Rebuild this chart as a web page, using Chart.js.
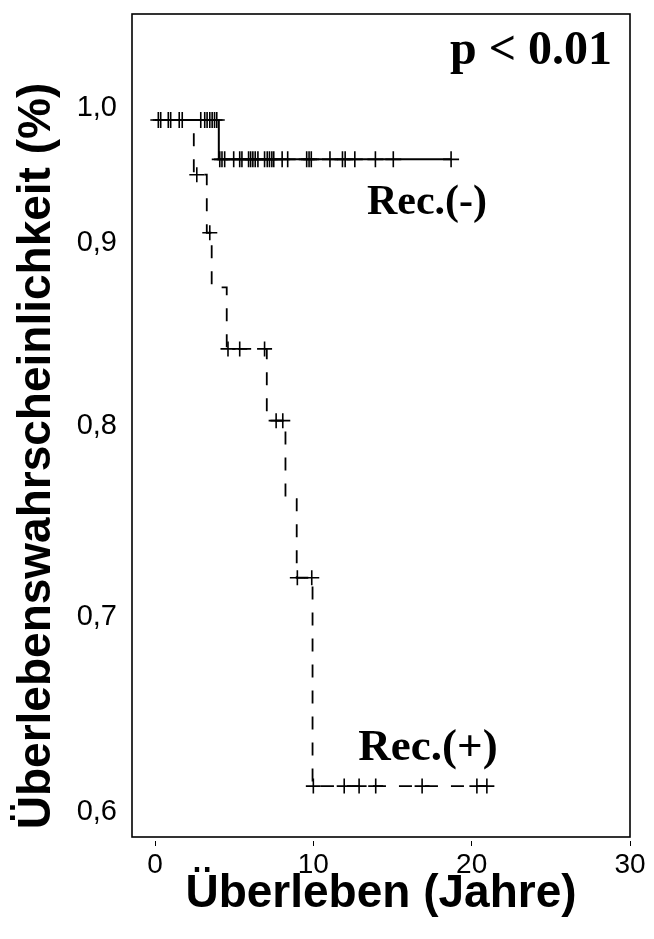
<!DOCTYPE html>
<html>
<head>
<meta charset="utf-8">
<script src="https://cdn.jsdelivr.net/npm/chart.js@4.4.0/dist/chart.umd.min.js"></script>
<style>
  html, body { margin: 0; padding: 0; background: #fff; }
  #wrap { width: 654px; height: 939px; }
</style>
</head>
<body>
<div id="wrap"><canvas id="chart" width="654" height="939"></canvas></div>
<script>
// Rec.(-) : Kaplan-Meier steps, censoring times (Jahre)
const negEventTimes = [0, 4.03]
const negSurvival = [1.0, 0.977]
const negFollowUpEnd = 18.7
const negCensored = [0.21, 0.36, 0.84, 0.99, 1.53, 1.72, 2.89, 3.14, 3.29, 3.46, 3.61, 3.76, 3.9,
  4.09, 4.23, 4.4, 4.97, 5.35, 5.49, 5.91, 6.04, 6.18, 6.33, 6.5, 6.92, 7.09, 7.23, 7.38, 7.5,
  8.03, 8.38, 9.58, 9.73, 9.87, 11.05, 11.84, 12.01, 12.62, 13.92, 15.05, 18.7]

// Rec.(+)
const posEventTimes = [0, 2.45, 3.27, 3.58, 4.53, 7.06, 8.24, 8.95, 9.95]
const posSurvival = [1.0, 0.968, 0.934, 0.902, 0.866, 0.824, 0.778, 0.732, 0.61]
const posFollowUpEnd = 20.96
const posCensored = [2.64, 3.46, 4.61, 5.35, 6.92, 7.65, 8.07, 8.99, 9.9, 10.0,
  11.95, 12.89, 13.94, 16.87, 20.33, 20.96]

// axes
const xTicks = [0, 10, 20, 30]
const yTickValues = [1.007, 0.928, 0.821, 0.709, 0.595]
const yTickLabels = ['1,0', '0,9', '0,8', '0,7', '0,6']
const xTitle = 'Überleben (Jahre)'
const yTitle = 'Überlebenswahrscheinlichkeit (%)'
const pText = 'p < 0.01'
const negLabel = 'Rec.(-)'
const posLabel = 'Rec.(+)'

function survivalAt(times, surv, t) {
  let s = surv[0]
  for (let i = 0; i < times.length; i++) {
    if (times[i] <= t) s = surv[i]
  }
  return s
}

function stepPoints(times, surv, end) {
  const pts = times.map((t, i) => ({ x: t, y: surv[i] }))
  pts.push({ x: end, y: surv[surv.length - 1] })
  return pts
}

function censorPoints(times, surv, censored) {
  return censored.map(t => ({ x: t, y: survivalAt(times, surv, t) }))
}

const decorations = {
  id: 'decorations',
  beforeDatasetsDraw(chart) {
    const { ctx, chartArea: a } = chart
    ctx.save()
    ctx.strokeStyle = '#000'
    ctx.lineWidth = 1.6
    ctx.strokeRect(a.left, a.top, a.right - a.left, a.bottom - a.top)
    ctx.restore()
  },
  afterDraw(chart) {
    const { ctx, chartArea: a } = chart
    ctx.save()
    ctx.fillStyle = '#000'
    ctx.textAlign = 'center'
    ctx.textBaseline = 'middle'
    ctx.font = 'bold 46px "Liberation Sans", Arial, sans-serif'
    ctx.fillText(xTitle, (a.left + a.right) / 2, 894)
    ctx.save()
    ctx.translate(37, 456)
    ctx.rotate(-Math.PI / 2)
    ctx.fillText(yTitle, 0, 0)
    ctx.restore()

    ctx.font = 'bold 48px "Liberation Serif", "Times New Roman", serif'
    ctx.textAlign = 'right'
    ctx.fillText(pText, 612, 52)
    ctx.textAlign = 'center'
    ctx.font = 'bold 42px "Liberation Serif", "Times New Roman", serif'
    ctx.fillText(negLabel, 427, 203)
    ctx.font = 'bold 45px "Liberation Serif", "Times New Roman", serif'
    ctx.fillText(posLabel, 428, 748)
    ctx.restore()
  }
}

const ctx = document.getElementById('chart').getContext('2d')

new Chart(ctx, {
  type: 'scatter',
  data: {
    datasets: [
      {
        label: 'Rec.(-)',
        type: 'line',
        data: stepPoints(negEventTimes, negSurvival, negFollowUpEnd),
        stepped: 'before',
        borderColor: '#000',
        borderWidth: 2,
        pointRadius: 0,
        fill: false,
      },
      {
        label: 'Rec.(-) zensiert',
        data: censorPoints(negEventTimes, negSurvival, negCensored),
        pointStyle: 'cross',
        pointRadius: 8,
        borderColor: '#000',
        borderWidth: 1.6,
      },
      {
        label: 'Rec.(+)',
        type: 'line',
        data: stepPoints(posEventTimes, posSurvival, posFollowUpEnd),
        stepped: 'before',
        borderColor: '#000',
        borderWidth: 1.8,
        borderDash: [13, 13],
        pointRadius: 0,
        fill: false,
      },
      {
        label: 'Rec.(+) zensiert',
        data: censorPoints(posEventTimes, posSurvival, posCensored),
        pointStyle: 'cross',
        pointRadius: 7.5,
        borderColor: '#000',
        borderWidth: 1.6,
      },
    ],
  },
  options: {
    responsive: false,
    animation: false,
    layout: { padding: { left: 0, right: 24, top: 14, bottom: 0 } },
    plugins: {
      legend: { display: false },
      tooltip: { enabled: false },
    },
    scales: {
      x: {
        type: 'linear',
        min: -1.453,
        max: 30,
        afterBuildTicks: scale => {
          scale.ticks = xTicks.map(v => ({ value: v }))
        },
        afterFit: scale => {
          scale.height = 102
          scale.paddingLeft = 0
          scale.paddingRight = 0
        },
        ticks: {
          color: '#000',
          padding: 2,
          font: { family: '"Liberation Sans", Arial, sans-serif', size: 28 },
        },
        grid: {
          drawOnChartArea: false,
          tickLength: 9,
          tickBorderDash: [0, 4, 5, 100],
          tickColor: '#000',
          tickWidth: 1,
        },
        border: { display: false },
      },
      y: {
        type: 'linear',
        min: 0.5802,
        max: 1.0621,
        afterBuildTicks: scale => {
          scale.ticks = yTickValues.map(v => ({ value: v }))
        },
        afterFit: scale => {
          scale.width = 132
          scale.paddingTop = 0
          scale.paddingBottom = 0
        },
        ticks: {
          color: '#000',
          padding: 15,
          font: { family: '"Liberation Sans", Arial, sans-serif', size: 29 },
          callback: (value, index) => yTickLabels[index],
        },
        grid: { display: false, drawTicks: false },
        border: { display: false },
      },
    },
  },
  plugins: [decorations],
})
</script>
</body>
</html>
